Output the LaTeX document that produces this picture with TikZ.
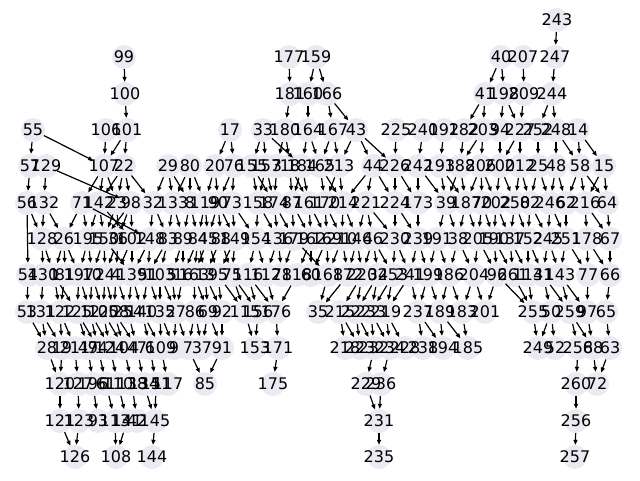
\documentclass[tikz,border=0pt]{standalone}
\usepackage{fontspec}
\setmainfont{DejaVu Sans}
\usetikzlibrary{arrows.meta}
\definecolor{vtxgray}{RGB}{235,234,242}

% label/x/y, in pixels from the top left corner
\def\vertices{243/557/20,
99/124/57, 177/289/57, 159/316/57, 40/501/57, 207/523/57, 247/555/57,
100/125/94, 181/290/94, 160/308/94, 166/327/94, 41/485/94, 198/504/94, 209/524/94, 244/552/94,
55/33/130, 106/106/130, 101/127/130, 17/230/130, 33/263/130, 180/285/130, 164/308/130, 167/333/130, 43/356/130, 225/396/130, 240/423/130, 192/444/130, 182/464/130, 203/483/130, 94/500/130, 227/520/130, 252/538/130, 248/556/130, 14/578/130,
57/30/166, 129/46/166, 107/104/166, 22/124/166, 29/168/166, 80/190/166, 20/215/166, 76/234/166, 155/252/166, 157/266/166, 3/277/166, 18/290/166, 184/302/166, 165/320/166, 213/339/166, 44/373/166, 226/395/166, 242/418/166, 193/440/166, 188/460/166, 206/481/166, 200/500/166, 212/520/166, 25/538/166, 48/556/166, 58/580/166, 15/604/166,
56/27/203, 132/44/203, 71/82/203, 142/99/203, 23/117/203, 98/131/203, 32/153/203, 133/173/203, 8/190/203, 119/205/203, 90/218/203, 73/232/203, 158/258/203, 174/274/203, 87/292/203, 161/309/203, 170/325/203, 214/343/203, 221/366/203, 224/395/203, 173/418/203, 39/446/203, 187/466/203, 70/482/203, 202/496/203, 250/515/203, 82/530/203, 246/550/203, 62/566/203, 216/585/203, 64/607/203,
128/42/239, 26/64/239, 195/88/239, 150/104/239, 36/118/239, 102/132/239, 148/150/239, 83/168/239, 89/183/239, 84/198/239, 45/208/239, 88/221/239, 149/235/239, 154/256/239, 136/278/239, 179/294/239, 162/311/239, 169/327/239, 210/342/239, 146/357/239, 46/373/239, 230/395/239, 239/418/239, 191/437/239, 38/458/239, 205/478/239, 190/494/239, 137/510/239, 152/528/239, 245/548/239, 251/566/239, 178/587/239, 67/610/239,
54/28/275, 130/43/275, 1/54/275, 81/65/275, 197/79/275, 10/92/275, 24/105/275, 4/116/275, 139/132/275, 51/148/275, 103/160/275, 5/172/275, 16/183/275, 163/194/275, 13/205/275, 95/218/275, 75/232/275, 116/248/275, 112/266/275, 78/282/275, 118/297/275, 60/311/275, 168/328/275, 172/348/275, 220/362/275, 34/378/275, 253/393/275, 241/410/275, 199/428/275, 186/449/275, 204/474/275, 96/497/275, 261/513/275, 114/528/275, 31/543/275, 143/560/275, 77/588/275, 66/610/275,
53/27/312, 131/41/312, 122/60/312, 125/77/312, 12/90/312, 105/103/312, 208/114/312, 254/128/312, 140/142/312, 135/160/312, 27/176/312, 86/195/312, 69/208/312, 92/222/312, 115/245/312, 156/258/312, 176/276/312, 35/318/312, 215/340/312, 222/356/312, 233/371/312, 219/386/312, 237/418/312, 189/440/312, 183/462/312, 201/485/312, 255/533/312, 50/551/312, 259/570/312, 97/587/312, 65/606/312,
28/47/348, 19/62/348, 211/75/348, 49/88/348, 74/98/348, 124/110/348, 104/124/348, 47/137/348, 6/150/348, 109/161/348, 9/174/348, 7/188/348, 37/202/348, 91/222/348, 153/255/348, 171/278/348, 218/345/348, 223/360/348, 232/374/348, 234/390/348, 228/405/348, 238/423/348, 194/443/348, 185/468/348, 249/538/348, 52/555/348, 258/578/348, 68/593/348, 63/610/348,
120/60/384, 127/78/384, 196/93/384, 61/106/384, 110/118/384, 138/132/384, 134/144/384, 151/156/384, 117/168/384, 85/205/384, 175/273/384, 229/366/384, 236/381/384, 260/576/384, 72/597/384,
121/60/421, 123/79/421, 93/98/421, 113/115/421, 141/127/421, 42/137/421, 145/155/421, 231/379/421, 256/576/421,
126/75/457, 108/116/457, 144/152/457, 235/379/457, 257/575/457}

% parent/child
\def\arcs{243/247,
99/100, 177/181, 159/160, 159/166, 40/41, 40/198, 207/209, 247/244,
100/101, 181/180, 160/164, 166/167, 166/43, 41/203, 41/182, 198/94, 198/227, 209/227, 244/248, 244/252,
55/57, 55/107, 106/107, 101/22, 101/107, 17/20, 17/76, 33/155, 33/157, 33/184, 180/3, 180/18, 164/184, 164/165, 167/165, 167/213, 43/213, 43/44, 43/226, 225/226, 240/242, 192/193, 182/188, 203/206, 203/188, 94/200, 227/200, 227/212, 252/25, 248/48, 248/58, 14/58, 14/15,
57/56, 129/132, 129/98, 107/71, 107/142, 22/23, 22/98, 22/32, 29/133, 29/32, 80/8, 80/119, 20/90, 76/73, 155/158, 157/158, 3/174, 18/87, 184/87, 184/161, 165/170, 213/214, 213/170, 44/221, 44/224, 226/224, 242/173, 193/39, 188/187, 206/70, 200/202, 212/250, 25/82, 48/246, 58/62, 58/216, 15/64, 15/216, 193/187, 206/202,
107/23, 22/142, 29/8, 80/133, 20/119, 76/90, 155/174, 157/174, 18/161, 165/214, 44/214, 226/173, 242/39, 188/39, 206/187, 200/250, 212/82, 25/246, 48/62, 58/64,
132/128, 71/26, 142/195, 142/150, 23/36, 98/102, 98/150, 32/148, 133/83, 8/89, 119/84, 90/45, 90/88, 73/149, 158/154, 174/136, 87/179, 161/162, 170/169, 214/210, 221/146, 221/46, 224/230, 173/239, 39/191, 187/38, 70/205, 202/190, 250/137, 82/152, 246/245, 62/251, 216/178, 64/67, 71/148, 142/102, 224/239, 56/54,
56/128, 132/26, 71/195, 23/150, 98/36, 32/83, 133/89, 8/84, 119/45, 90/149, 73/154, 158/136, 174/179, 87/162, 161/169, 170/210, 214/146, 221/230, 39/38, 187/205, 70/190, 202/137, 250/152, 82/245, 246/251, 216/67,
128/130, 26/1, 26/81, 195/197, 150/10, 36/24, 102/4, 102/139, 148/51, 83/103, 89/5, 84/16, 45/163, 88/13, 149/95, 149/75, 154/116, 136/112, 179/78, 162/118, 169/60, 210/168, 146/172, 46/220, 46/34, 230/253, 239/241, 191/199, 38/186, 205/204, 190/96, 137/261, 152/114, 245/31, 251/143, 178/77, 67/66, 150/139, 84/163, 179/168, 230/241,
128/1, 26/197, 195/10, 150/24, 36/4, 148/139, 83/51, 89/16, 84/13, 45/95, 88/75, 154/112, 136/78, 162/60, 169/168, 210/172, 146/220, 46/253, 239/199, 191/186, 38/204, 205/96, 190/261, 137/114, 152/31, 245/143, 251/77, 178/66,
54/53, 130/131, 1/122, 81/122, 197/125, 10/12, 24/105, 4/208, 139/254, 51/140, 103/135, 5/27, 16/27, 163/86, 13/69, 95/92, 75/115, 116/156, 112/176, 172/35, 220/215, 34/222, 253/233, 241/219, 199/237, 186/189, 204/183, 96/201, 261/255, 114/255, 31/50, 143/259, 77/97, 66/65, 168/35, 118/176,
1/125, 197/12, 10/105, 24/208, 4/254, 139/140, 51/135, 103/27, 163/69, 13/92, 95/115, 75/156, 116/176, 220/222, 34/233, 253/219, 241/237, 199/189, 186/183, 204/201, 96/255, 31/259, 143/97,
131/28, 122/19, 122/211, 125/49, 12/74, 105/124, 208/104, 254/47, 140/6, 135/109, 27/9, 86/7, 69/37, 92/91, 115/153, 156/153, 176/171, 215/218, 222/223, 233/232, 219/234, 219/228, 237/238, 189/194, 183/185, 255/249, 50/52, 259/258, 97/68, 65/63,
53/28, 131/19, 125/74, 12/124, 105/104, 208/47, 140/109, 135/9, 27/7, 86/37, 69/91, 215/223, 222/232, 233/234, 237/194, 189/185, 50/249, 259/68,
28/120, 19/120, 211/127, 49/196, 74/61, 124/110, 104/138, 47/134, 6/151, 109/117, 7/85, 91/85, 171/175, 232/229, 234/236, 258/260, 63/72, 68/72,
120/121, 127/123, 196/93, 61/113, 110/141, 138/42, 134/145, 151/145, 236/231, 229/231, 260/256,
123/126, 121/126, 113/108, 141/108, 145/144, 231/235, 256/257}

\begin{document}
\begin{tikzpicture}[x=1pt,y=-1pt,
    vtx/.style={circle,fill=vtxgray,inner sep=0pt,minimum size=24pt},
    lbl/.style={font=\fontsize{16}{16}\selectfont,inner sep=0pt},
    arc/.style={-{Triangle[length=5pt,width=4pt]},line width=1.2pt}]
    \useasboundingbox (0,0) rectangle (640,480);

    % circles first, then the arcs, then the numbers on top
    \foreach \l/\x/\y in \vertices \node[vtx] (n\l) at (\x,\y) {};
    \foreach \a/\b in \arcs \draw[arc] (n\a) -- (n\b);
    \foreach \l/\x/\y in \vertices \node[lbl] at (n\l) {\l};

\end{tikzpicture}
\end{document}
